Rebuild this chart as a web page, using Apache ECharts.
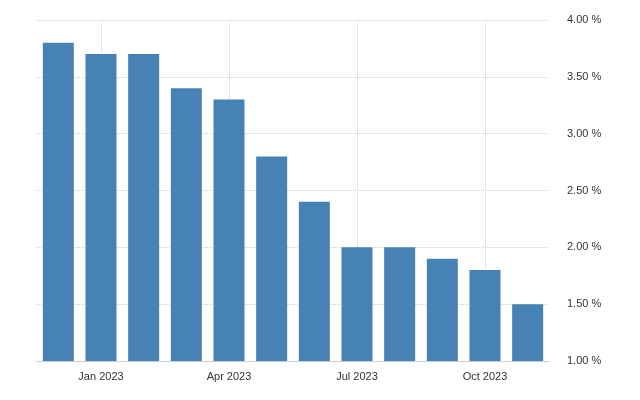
<!DOCTYPE html>
<html><head><meta charset="utf-8">
<script src="https://cdn.jsdelivr.net/npm/echarts@6/dist/echarts.min.js"></script>
<style>html,body{margin:0;background:#fff}#c{width:640px;height:400px}</style>
</head><body><div id="c"></div>
<script>
// monthly values, Dec 2022 .. Nov 2023
var months = ['Dec 2022','Jan 2023','Feb 2023','Mar 2023','Apr 2023','May 2023','Jun 2023','Jul 2023','Aug 2023','Sep 2023','Oct 2023','Nov 2023'];
var rates = [3.8, 3.7, 3.7, 3.4, 3.3, 2.8, 2.4, 2.0, 2.0, 1.9, 1.8, 1.5];
var labelled = ['Jan 2023','Apr 2023','Jul 2023','Oct 2023'];

var chart = echarts.init(document.getElementById('c'));
var grid = {lineStyle: {color: '#d0d0d0', type: 'dotted', width: 1}};
chart.setOption({
	animation: false,
	grid: {left: 37, right: 91, top: 20, bottom: 39},
	xAxis: {
		type: 'category', data: months,
		axisLine: {lineStyle: {color: '#ccc'}},
		axisTick: {show: false},
		axisLabel: {
			color: '#333', fontSize: 11, fontFamily: 'Arial', margin: 10,
			interval: function (i, v) { return labelled.indexOf(v) >= 0; }
		},
		splitLine: {show: false}
	},
	yAxis: {
		type: 'value', position: 'right', min: 1, max: 4, interval: 0.5,
		axisLine: {show: false}, axisTick: {show: false},
		axisLabel: {color: '#333', fontSize: 11, fontFamily: 'Arial', margin: 18,
			formatter: function (v) { return v.toFixed(2) + ' %'; }},
		splitLine: grid
	},
	series: [{
		type: 'bar', data: rates, barWidth: 31,
		itemStyle: {color: '#4682b4'},
		markLine: {
			silent: true, symbol: 'none', label: {show: false},
			lineStyle: grid.lineStyle, z: 0,
			data: labelled.map(function (m) { return {xAxis: m}; })
		}
	}]
});
</script></body></html>
